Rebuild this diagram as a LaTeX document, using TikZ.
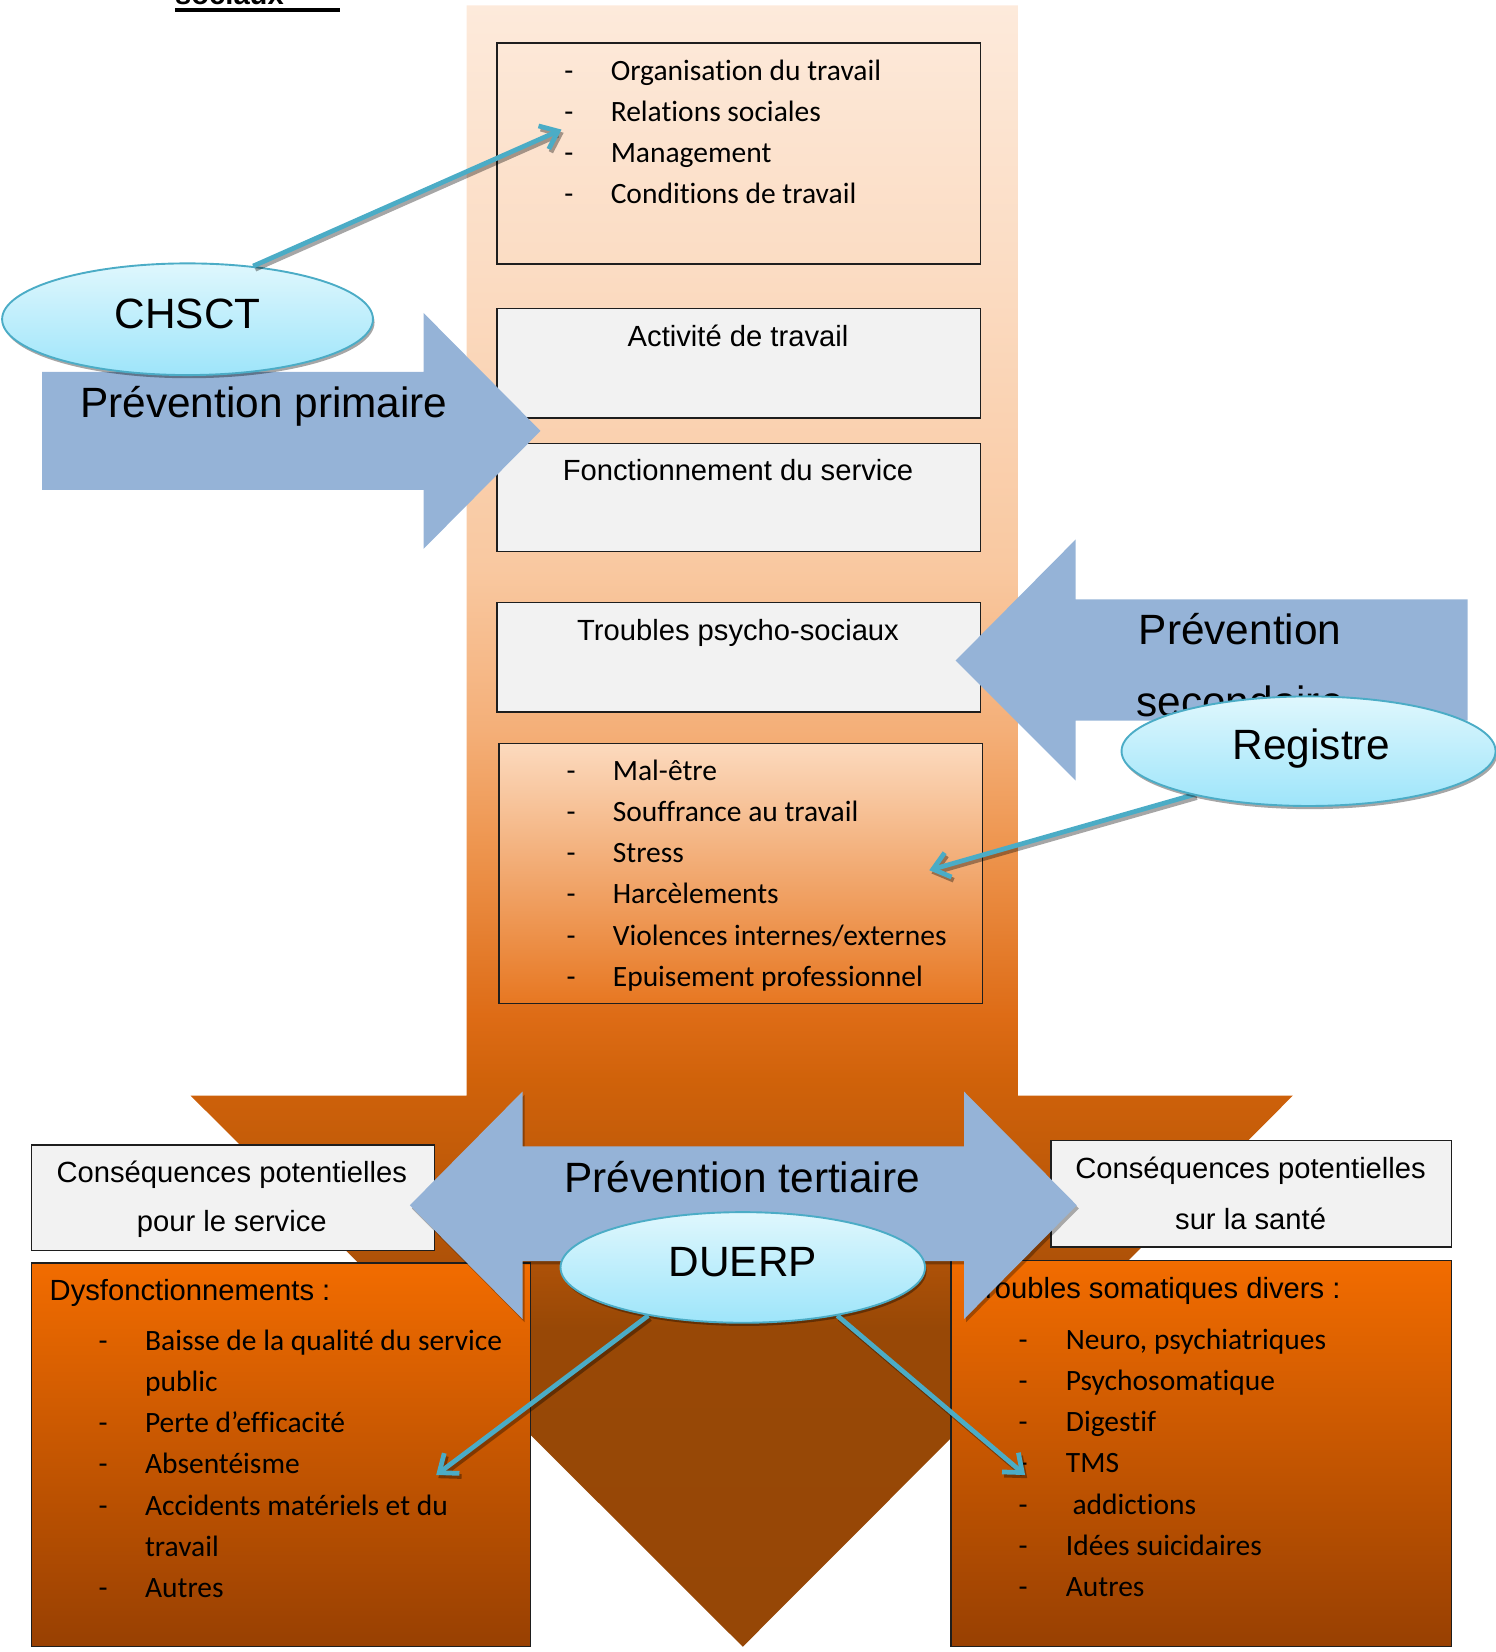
\documentclass[tikz,border=0pt]{standalone}
\usepackage{fontspec}
\setmainfont{Liberation Sans}
\newfontfamily\listfont{Carlito}[Ligatures=NoCommon]
\usetikzlibrary{arrows.meta,shadows,shapes.geometric}

% palette
\definecolor{flowA}{RGB}{253,234,219}
\definecolor{flowB}{RGB}{251,220,195}
\definecolor{flowC}{RGB}{249,200,160}
\definecolor{flowD}{RGB}{244,175,120}
\definecolor{flowE}{RGB}{238,150,80}
\definecolor{flowF}{RGB}{222,108,22}
\definecolor{flowG}{RGB}{208,98,10}
\definecolor{flowH}{RGB}{175,82,8}
\definecolor{flowI}{RGB}{152,72,6}
\definecolor{flowJ}{RGB}{150,71,6}
\definecolor{listTop}{RGB}{252,218,190}
\definecolor{listMid}{RGB}{248,198,152}
\definecolor{listBot}{RGB}{231,119,33}
\definecolor{consTop}{RGB}{242,108,0}
\definecolor{consBot}{RGB}{152,64,2}
\definecolor{boxgrey}{RGB}{242,242,242}
\definecolor{boxline}{RGB}{30,30,30}
\definecolor{arrowblue}{RGB}{149,179,215}
\definecolor{cyanline}{RGB}{75,172,198}
\definecolor{bubbleTop}{RGB}{223,247,253}
\definecolor{bubbleBot}{RGB}{158,229,250}

% vertical colour ramp of the large downward flow arrow
\pgfdeclareverticalshading{flowshade}{100bp}{%
  color(0bp)=(flowJ); color(25bp)=(flowJ); color(34.72bp)=(flowI);
  color(36.78bp)=(flowH); color(42.27bp)=(flowG); color(44.26bp)=(flowF);
  color(49.49bp)=(flowE); color(52.92bp)=(flowD); color(57.80bp)=(flowC);
  color(66.94bp)=(flowB); color(75bp)=(flowA); color(100bp)=(flowA)}

\begin{document}
\begin{tikzpicture}[x=1pt,y=-1pt,
  txt/.style={inner sep=0pt, anchor=base, font=\fontsize{27.7}{33}\selectfont},
  bigtxt/.style={inner sep=0pt, anchor=base, font=\fontsize{40.2}{48}\selectfont},
  lefttxt/.style={inner sep=0pt, anchor=base west, font=\fontsize{27.7}{33}\selectfont},
  itm/.style={inner sep=0pt, anchor=base west, font=\listfont\fontsize{28}{33}\selectfont},
  hy/.style={inner sep=0pt, anchor=base, font=\listfont\fontsize{28}{33}\selectfont},
  frame/.style={draw=boxline, line width=1.3pt, inner sep=0pt, anchor=north west},
  greybox/.style={frame, fill=boxgrey},
  blockarrow/.style={fill=arrowblue},
  bubble/.style={ellipse, draw=cyanline, line width=1.8pt, top color=bubbleTop,
    bottom color=bubbleBot, inner sep=0pt,
    drop shadow={shadow xshift=1.5pt, shadow yshift=-3pt, fill=black, opacity=0.35}},
  link/.style={draw=cyanline, line width=4.5pt, -{Straight Barb[length=15pt,width=24pt]}},
  linkshade/.style={draw=black, opacity=0.35, line width=4.5pt,
    -{Straight Barb[length=15pt,width=24pt]}, transform canvas={xshift=2pt,yshift=-3pt}},
]
\useasboundingbox (0,0) rectangle (1419,1568);

% large downward flow arrow
\shade[shading=flowshade] (443,5) -- (966,5) -- (966,1040) -- (1227,1040)
  -- (705,1563) -- (181,1040) -- (443,1040) -- cycle;

% heading fragment
\node[inner sep=0pt, anchor=base west, font=\bfseries\fontsize{27.7}{33}\selectfont] (sociaux) at (166,4.5) {sociaux};
\draw[line width=3.5pt] (166,9.5) -- (323,9.5);

% upper boxes
\node[frame, minimum width=459, minimum height=210] (box1) at (471,40) {};
\foreach \t [count=\i] in {Organisation du travail, Relations sociales, Management, Conditions de travail} {
  \node[hy] (b1d\i) at (540,{76+39*(\i-1)}) {-};
  \node[itm] (b1t\i) at (579.5,{76+39*(\i-1)}) {\t};
}
\node[greybox, minimum width=459, minimum height=104] (box2) at (471,292) {};
\node[txt] (box2t) at (700.5,329) {Activité de travail};
\node[greybox, minimum width=459, minimum height=103] (box3) at (471,420) {};
\node[txt] (box3t) at (700.5,456) {Fonctionnement du service};
\node[greybox, minimum width=459, minimum height=104] (box4) at (471,571) {};
\node[txt] (box4t) at (700.5,608) {Troubles psycho-sociaux};
\node[frame, top color=listTop, middle color=listMid, bottom color=listBot,
  minimum width=459, minimum height=247] (box5) at (473,705) {};
\foreach \t [count=\i] in {Mal-être, Souffrance au travail, Stress, Harcèlements, Violences internes/externes, Epuisement professionnel} {
  \node[hy] (b5d\i) at (542,{741+39*(\i-1)}) {-};
  \node[itm] (b5t\i) at (581.5,{741+39*(\i-1)}) {\t};
}

% primary prevention
\fill[blockarrow] (40,353) -- (402,353) -- (402,297) -- (513,409) -- (402,521)
  -- (402,465) -- (40,465) -- cycle;
\node[bigtxt] (primT) at (250.5,396) {Prévention primaire};
\node[bubble, minimum width=352, minimum height=106] (chsct) at (178,303) {};
\node[bigtxt] (chsctT) at (178,312) {CHSCT};
\coordinate (chsctEnd) at (533,123);
\draw[linkshade] (chsct.39) -- (chsctEnd);
\draw[link] (chsct.39) -- (chsctEnd);

% secondary prevention
\fill[blockarrow] (1393,569) -- (1021,569) -- (1021,512) -- (907,627) -- (1021,741)
  -- (1021,684) -- (1393,684) -- cycle;
\node[bigtxt] (secT1) at (1177,612) {Prévention};
\node[bigtxt] (secT2) at (1177,680) {secondaire};
\coordinate (regStart) at (1134,754);
\coordinate (regEnd) at (882,826);
\draw[linkshade] (regStart) -- (regEnd);
\draw[link] (regStart) -- (regEnd);
\node[bubble, minimum width=355, minimum height=104] (registre) at (1242,713) {};
\node[bigtxt] (registreT) at (1245,721) {Registre};

% consequences
\node[greybox, minimum width=383, minimum height=100] (consL) at (29,1086) {};
\node[txt] (consL1) at (220,1122) {Conséquences potentielles};
\node[txt] (consL2) at (220,1169) {pour le service};
\node[greybox, minimum width=380, minimum height=101] (consR) at (997,1082) {};
\node[txt] (consR1) at (1187,1119) {Conséquences potentielles};
\node[txt] (consR2) at (1187,1167) {sur la santé};

\node[frame, top color=consTop, bottom color=consBot, minimum width=474, minimum height=364] (dysf) at (29,1198) {};
\node[lefttxt] (dysfT) at (47,1234) {Dysfonctionnements :};
\foreach \d/\t [count=\i] in {-/Baisse de la qualité du service, {}/public, -/Perte d’efficacité, -/Absentéisme, -/Accidents matériels et du, {}/travail, -/Autres} {
  \node[hy] (dd\i) at (98,{1282+39*(\i-1)}) {\d};
  \node[itm] (dt\i) at (137.5,{1282+39*(\i-1)}) {\t};
}
\node[frame, top color=consTop, bottom color=consBot, minimum width=475, minimum height=366] (somat) at (902,1196) {};
\node[lefttxt] (somatT) at (919,1232) {Troubles somatiques divers :};
\foreach \t [count=\i] in {{Neuro, psychiatriques}, Psychosomatique, Digestif, TMS, {\ addictions}, Idées suicidaires, Autres} {
  \node[hy] (sd\i) at (971,{1281+39*(\i-1)}) {-};
  \node[itm] (st\i) at (1011.5,{1281+39*(\i-1)}) {\t};
}

% tertiary prevention
\fill[blockarrow, drop shadow={shadow xshift=2pt, shadow yshift=-3pt, fill=black, opacity=0.3}]
  (496,1088) -- (915,1088) -- (915,1036) -- (1022,1144) -- (915,1252) -- (915,1197)
  -- (496,1197) -- (496,1252) -- (389,1144) -- (496,1036) -- cycle;
\node[bigtxt] (tertT) at (704.5,1132) {Prévention tertiaire};
\node[bubble, minimum width=346, minimum height=105] (duerp) at (705,1203) {};
\node[bigtxt] (duerpT) at (705,1212) {DUERP};
\coordinate (dysfEnd) at (414,1400);
\coordinate (somatEnd) at (973,1400);
\draw[linkshade] (duerp.207) -- (dysfEnd);
\draw[link] (duerp.207) -- (dysfEnd);
\draw[linkshade] (duerp.333) -- (somatEnd);
\draw[link] (duerp.333) -- (somatEnd);
\end{tikzpicture}
\end{document}
